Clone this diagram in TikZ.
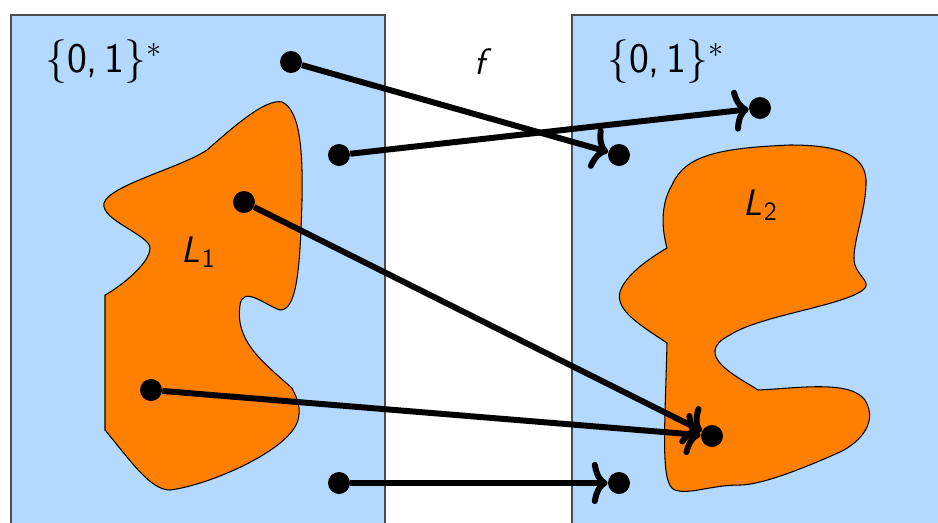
\documentclass[tikz,border=0pt]{standalone}
\usetikzlibrary{arrows.meta}
\definecolor{boxblue}{RGB}{179,217,255}
\definecolor{blorange}{RGB}{255,127,0}
\begin{document}
\begin{tikzpicture}[x=0.02cm,y=-0.02cm,
  dot/.style={circle,fill=black,inner sep=0pt,minimum size=0.44cm},
  maparrow/.style={line width=3.4pt,-{To[length=9pt,width=24pt]}},
  setbox/.style={fill=boxblue,draw=black!70,line width=0.6pt},
  blob/.style={fill=blorange,draw=black,line width=0.6pt},
  lbl/.style={font=\sffamily\fontsize{21}{25}\selectfont,inner sep=0pt},
  setlbl/.style={font=\sffamily\fontsize{24}{28}\selectfont,inner sep=0pt}]
\useasboundingbox (0,0) rectangle (938,522);
\clip (0,0) rectangle (938,522);
% sets
\path[setbox] (11,15) rectangle (385,545);
\path[setbox] (572,15) rectangle (950,545);
% L1
\path[blob] (105,295) -- (105,430) .. controls (130,460) and (150,490) .. (170,490)
  .. controls (210,485) and (290,450) .. (298,420)
  .. controls (302,405) and (295,395) .. (292,388)
  .. controls (260,360) and (235,340) .. (240,305)
  .. controls (243,285) and (265,305) .. (280,310)
  .. controls (295,310) and (300,280) .. (302,200)
  .. controls (303,150) and (300,110) .. (282,102)
  .. controls (265,98) and (230,130) .. (207,150)
  .. controls (180,168) and (110,185) .. (104,203)
  .. controls (100,220) and (150,235) .. (150,248)
  .. controls (150,265) and (115,290) .. (105,295) -- cycle;
% L2
\path[blob] (667,343) .. controls (640,325) and (615,310) .. (620,292)
  .. controls (625,275) and (650,258) .. (667,248)
  .. controls (662,230) and (660,205) .. (672,185)
  .. controls (685,155) and (720,148) .. (790,145)
  .. controls (840,145) and (868,155) .. (866,185)
  .. controls (865,215) and (850,250) .. (855,265)
  .. controls (858,275) and (870,282) .. (865,288)
  .. controls (850,305) and (760,315) .. (730,335)
  .. controls (690,355) and (740,378) .. (758,390)
  .. controls (800,388) and (850,380) .. (865,400)
  .. controls (880,425) and (855,445) .. (840,452)
  .. controls (800,470) and (760,485) .. (740,485)
  .. controls (710,485) and (690,495) .. (675,490)
  .. controls (660,485) and (665,430) .. (667,343) -- cycle;
% labels
\node[setlbl] (s1) at (104,62) {$\{$0,\,1$\}^{*}$};
\node[setlbl] (s2) at (666,62) {$\{$0,\,1$\}^{*}$};
\node[lbl] (fl) at (480,62) {\slshape f};
\node[lbl] (l1) at (198,252) {\slshape L\kern1pt\raisebox{-0.3ex}{\fontsize{15}{18}\selectfont\upshape 1}};
\node[lbl] (l2) at (760,205) {\slshape L\kern1pt\raisebox{-0.3ex}{\fontsize{15}{18}\selectfont\upshape 2}};
% points
\node[dot] (a) at (291,62) {};
\node[dot] (b) at (339,155) {};
\node[dot] (c) at (244,202) {};
\node[dot] (d) at (151,390) {};
\node[dot] (e) at (339,483) {};
\node[dot] (p) at (760,108) {};
\node[dot] (q) at (619,155) {};
\node[dot] (r) at (712,436) {};
\node[dot] (s) at (619,483) {};
% maps
\draw[maparrow] (a) -- (q);
\draw[maparrow] (b) -- (p);
\draw[maparrow] (c) -- (r);
\draw[maparrow] (d) -- (r);
\draw[maparrow] (e) -- (s);
\end{tikzpicture}
\end{document}
